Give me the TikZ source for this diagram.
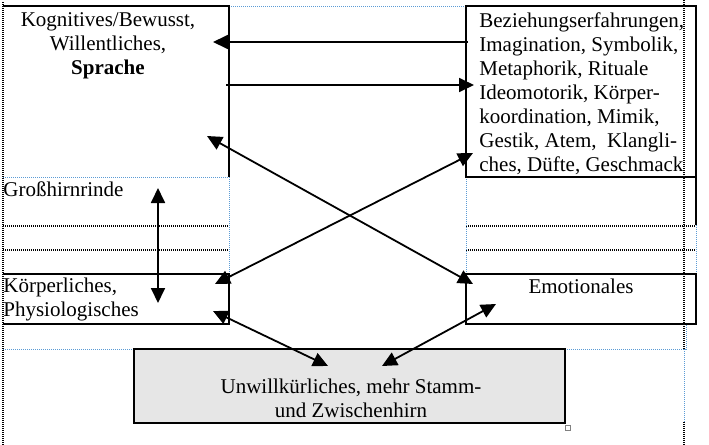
\documentclass[tikz,border=0pt]{standalone}
\usepackage{fontspec}
\setmainfont{Liberation Serif}
\usetikzlibrary{arrows.meta}
\definecolor{gridblue}{RGB}{91,155,213}
\definecolor{boxgray}{RGB}{230,230,230}

\begin{document}
\begin{tikzpicture}[x=0.5pt, y=-0.5pt,
	frame/.style={line width=0.6pt},
	tabline/.style={line width=0.6pt, dash pattern=on 0.5pt off 0.5pt},
	helpline/.style={line width=0.5pt, gridblue, dash pattern=on 0.5pt off 0.5pt},
	label/.style={inner sep=0pt, font=\fontsize{10.5}{12}\selectfont},
	arr/.style={line width=0.9pt, -{Triangle[length=7.5pt,width=7pt]}},
	darr/.style={line width=0.9pt, {Triangle[length=7.5pt,width=7pt]}-{Triangle[length=7.5pt,width=7pt]}}]
	\useasboundingbox (0,0) rectangle (709,445);
	\foreach \y in {226,250}{
		\draw [tabline] (3,\y) -- (229,\y);
		\draw [tabline] (466,\y) -- (696,\y);
	}
	\draw [tabline] (3,2) -- (3,445);
	\draw [tabline] (684,0) -- (684,349);
	\draw [tabline] (684,422) -- (684,445);
	\draw [helpline] (684,349) -- (684,422);
	\draw [helpline] (229,6) -- (466,6);
	\draw [helpline] (3,177) -- (229,177) -- (229,274);
	\draw [helpline] (466,177) -- (466,274);
	\draw [helpline] (696,225) -- (696,274);
	\draw [helpline] (3,349) -- (134,349);
	\draw [helpline] (565,349) -- (686,349) -- (686,324);
	\draw [frame] (3,6) -- (229,6) -- (229,177);
	\draw [frame] (466,6) rectangle (696,177);
	\draw [frame] (696,177) -- (696,225);
	\draw [frame] (3,274) -- (229,274) -- (229,324) -- (3,324);
	\draw [frame] (466,274) rectangle (696,324);
	\draw [frame, fill=boxgray] (134,349) rectangle (565,423);
	\draw [line width=0.4pt, gray] (565,425) rectangle (570,430);

	\node [label, align=center, anchor=north] (kog) at (108,12) {Kognitives/Bewusst,\\Willentliches,\\\textbf{Sprache}};
	\node [label, align=left, anchor=north west] (bez) at (479,12) {Beziehungserfahrungen,\\Imagination, Symbolik,\\Metaphorik, Rituale\\Ideomotorik, Körper-\\koordination, Mimik,\\Gestik, Atem,\ \ Klangli-\\ches, Düfte, Geschmack};
	\node [label, anchor=base west] (gross) at (3,196) {Großhirnrinde};
	\node [label, align=left, anchor=north west] (koerp) at (3,278) {Körperliches,\\Physiologisches};
	\node [label, anchor=base] (emo) at (581,293) {Emotionales};
	\node [label, align=center, anchor=north] (unw) at (351,379) {Unwillkürliches, mehr Stamm-\\und Zwischenhirn};

	\coordinate (bezIn) at (468,42);
	\coordinate (kogIn) at (213,42);
	\coordinate (kogOut) at (226,85);
	\coordinate (bezOut) at (474,85);
	\coordinate (kogX) at (207,136);
	\coordinate (emoX) at (473,284);
	\coordinate (koerpX) at (215,284);
	\coordinate (bezX) at (473,153);
	\coordinate (grossUp) at (158,188);
	\coordinate (grossDown) at (158,303);
	\coordinate (koerpU) at (213,311);
	\coordinate (unwL) at (328,366);
	\coordinate (unwR) at (382,366);
	\coordinate (emoU) at (496,304);
	\draw [arr] (bezIn) -- (kogIn);
	\draw [arr] (kogOut) -- (bezOut);
	\draw [darr] (kogX) -- (emoX);
	\draw [darr] (koerpX) -- (bezX);
	\draw [darr] (grossUp) -- (grossDown);
	\draw [darr] (koerpU) -- (unwL);
	\draw [darr] (unwR) -- (emoU);
\end{tikzpicture}
\end{document}
